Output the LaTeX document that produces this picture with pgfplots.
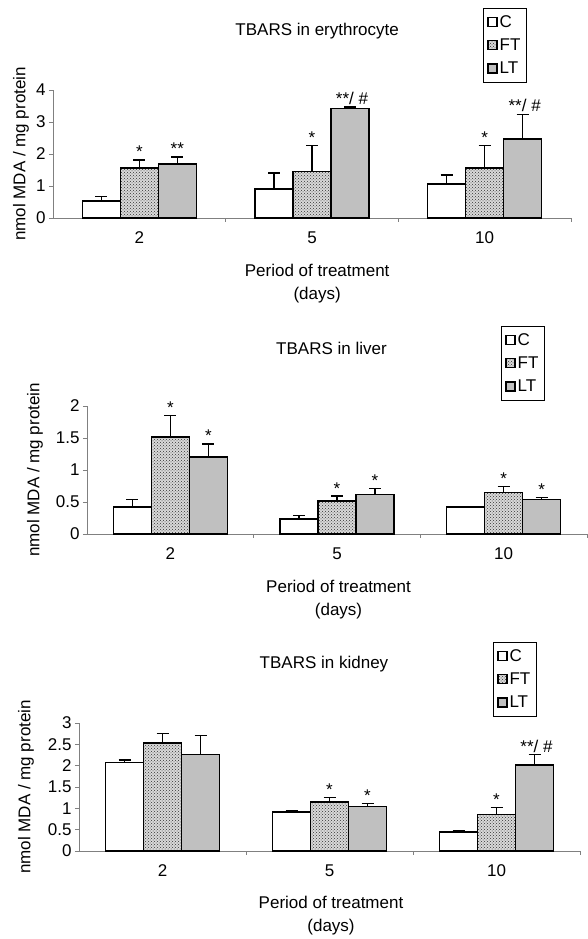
\documentclass[border=0pt]{standalone}
\usepackage{pgfplots}
\pgfplotsset{compat=1.18}
\usepackage{pgfplotstable}
\usepackage{fontspec}
\setmainfont{Liberation Sans}
\usetikzlibrary{patterns}
\definecolor{ltgray}{RGB}{192,192,192}
\definecolor{axgray}{RGB}{128,128,128}

% erythrocyte
\pgfplotstableread{
x C Ce FT FTe LT LTe
0 0.54 0.13 1.56 0.26 1.69 0.22
1 0.91 0.49 1.45 0.81 3.42 0.05
2 1.07 0.27 1.57 0.69 2.47 0.77
}\tabA
% liver
\pgfplotstableread{
x C Ce FT FTe LT LTe
0 0.42 0.12 1.52 0.33 1.20 0.21
1 0.23 0.06 0.52 0.07 0.62 0.09
2 0.42 0.01 0.65 0.09 0.54 0.03
}\tabB
% kidney
\pgfplotstableread{
x C Ce FT FTe LT LTe
0 2.07 0.06 2.53 0.22 2.26 0.45
1 0.92 0.02 1.15 0.10 1.04 0.07
2 0.45 0.03 0.86 0.16 2.01 0.25
}\tabC

\pgfplotsset{
 tbars/.style={
  scale only axis, height=128pt,
  xmin=-0.5, xmax=2.5, ymin=0,
  ybar=0pt, bar width=38pt,
  axis lines=left, axis line style={-, axgray, line width=0.8pt},
  tick align=outside, major tick length=4pt, tick style={axgray, line width=0.8pt},
  xtick={0.5,1.5,2.5}, xticklabels={},
  extra x ticks={0,1,2}, extra x tick labels={2,5,10},
  extra x tick style={major tick length=0pt, xticklabel style={yshift=-10pt}},
  clip=false,
  /pgf/number format/assume math mode=true,
  title style={anchor=center},
  xlabel={Period of treatment\\[3pt](days)},
  xlabel style={align=center, anchor=center},
  ylabel={nmol MDA / mg protein},
  ylabel style={anchor=center},
  legend cell align=left,
  legend style={draw=black, line width=0.6pt, anchor=north west, row sep=6pt,
    inner xsep=4pt, inner ysep=5pt},
 },
 barC/.style={fill=white, draw=black, line width=1.6pt},
 barFT/.style={fill=gray!30, draw=black, line width=1.6pt, postaction={pattern=crosshatch dots, pattern color=black!80}},
 barLT/.style={fill=ltgray, draw=black, line width=1.6pt},
 sqlegend/.style={legend image code/.code={\draw[##1, line width=1.4pt] (-2pt,-4.5pt) rectangle (7pt,4.5pt);}},
 errs/.style={error bars/.cd, y dir=plus, y explicit, error mark=-,
   error bar style={black, line width=1.6pt},
   error mark options={black, line width=1.6pt, mark size=6pt, rotate=90}},
}
\tikzset{ann/.style={anchor=south, inner sep=0pt, yshift=2pt}}

\begin{document}
\begin{tikzpicture}[font=\fontsize{17}{20}\selectfont]
\path[use as bounding box] (0pt,0pt) rectangle (587pt,939pt);

% ---------- erythrocyte ----------
\begin{axis}[tbars, at={(53pt,721pt)}, anchor=south west, width=518pt,
  ymax=4, ytick={0,1,2,3,4},
  title={TBARS in erythrocyte}, title style={at={(axis description cs:0.51,1.414)}},
  xlabel style={at={(axis description cs:0.51,-0.512)}},
  ylabel style={at={(axis description cs:-0.062,0.5)}},
  legend style={at={(axis description cs:0.830,1.641)}}]
\addplot[barC, sqlegend, errs] table[x=x,y=C,y error=Ce]{\tabA};
\addplot[barFT, sqlegend, errs] table[x=x,y=FT,y error=FTe]{\tabA};
\addplot[barLT, sqlegend, errs] table[x=x,y=LT,y error=LTe]{\tabA};
\legend{C,FT,LT}
\node[ann] at (axis cs:0,1.82) {*};
\node[ann, xshift=38pt] at (axis cs:0,1.91) {**};
\node[ann] at (axis cs:1,2.26) {*};
\node[ann, xshift=40pt] at (axis cs:1,3.47) {**/ \#};
\node[ann] at (axis cs:2,2.26) {*};
\node[ann, xshift=40pt] at (axis cs:2,3.24) {**/ \#};
\end{axis}

% ---------- liver ----------
\begin{axis}[tbars, at={(87pt,405pt)}, anchor=south west, width=500pt,
  ymax=2, ytick={0,0.5,1,1.5,2},
  title={TBARS in liver}, title style={at={(axis description cs:0.489,1.406)}},
  xlabel style={at={(axis description cs:0.503,-0.512)}},
  ylabel style={at={(axis description cs:-0.104,0.5)}},
  legend style={at={(axis description cs:0.828,1.625)}}]
\addplot[barC, sqlegend, errs] table[x=x,y=C,y error=Ce]{\tabB};
\addplot[barFT, sqlegend, errs] table[x=x,y=FT,y error=FTe]{\tabB};
\addplot[barLT, sqlegend, errs] table[x=x,y=LT,y error=LTe]{\tabB};
\legend{C,FT,LT}
\node[ann] at (axis cs:0,1.85) {*};
\node[ann, xshift=38pt] at (axis cs:0,1.41) {*};
\node[ann] at (axis cs:1,0.59) {*};
\node[ann, xshift=38pt] at (axis cs:1,0.71) {*};
\node[ann] at (axis cs:2,0.74) {*};
\node[ann, xshift=38pt] at (axis cs:2,0.57) {*};
\end{axis}

% ---------- kidney ----------
\begin{axis}[tbars, at={(79pt,88pt)}, anchor=south west, width=501pt,
  ymax=3, ytick={0,0.5,1,1.5,2,2.5,3},
  title={TBARS in kidney}, title style={at={(axis description cs:0.489,1.414)}},
  xlabel style={at={(axis description cs:0.503,-0.508)}},
  ylabel style={at={(axis description cs:-0.106,0.5)}},
  legend style={at={(axis description cs:0.826,1.633)}}]
\addplot[barC, sqlegend, errs] table[x=x,y=C,y error=Ce]{\tabC};
\addplot[barFT, sqlegend, errs] table[x=x,y=FT,y error=FTe]{\tabC};
\addplot[barLT, sqlegend, errs] table[x=x,y=LT,y error=LTe]{\tabC};
\legend{C,FT,LT}
\node[ann] at (axis cs:1,1.25) {*};
\node[ann, xshift=38pt] at (axis cs:1,1.11) {*};
\node[ann] at (axis cs:2,1.02) {*};
\node[ann, xshift=40pt] at (axis cs:2,2.26) {**/ \#};
\end{axis}
\end{tikzpicture}
\end{document}
